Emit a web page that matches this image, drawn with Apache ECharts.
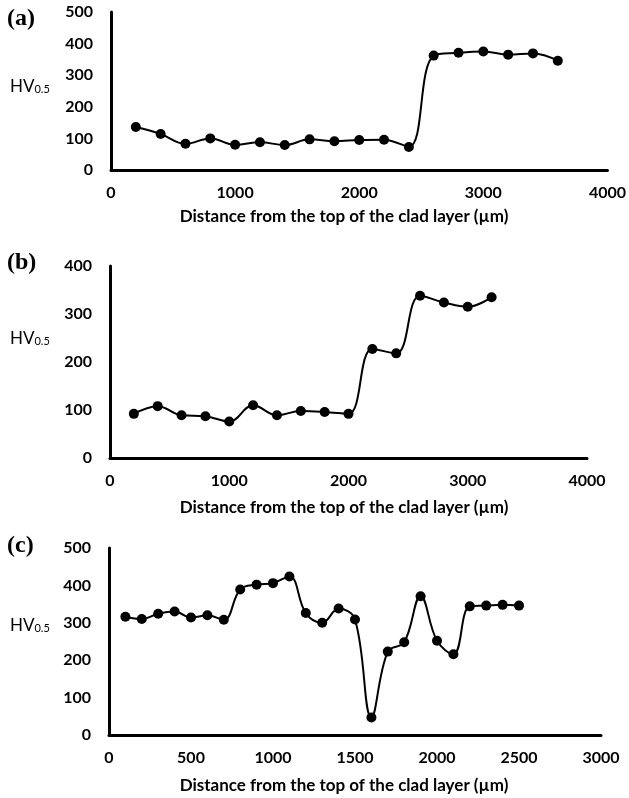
<!DOCTYPE html>
<html>
<head>
<meta charset="utf-8">
<script src="https://cdn.jsdelivr.net/npm/echarts@6/dist/echarts.min.js"></script>
<style>html,body{margin:0;padding:0;background:#fff}#c{width:629px;height:798px}</style>
</head>
<body>
<div id="c"></div>
<script>
// Panel (a)
const distA = [200,400,600,800,1000,1200,1400,1600,1800,2000,2200,2400,2600,2800,3000,3200,3400,3600];
const hvA   = [136,114,83,100,80,88,79,97,91,95,96,73,362,371,375,365,369,346];
// Panel (b)
const distB = [200,400,600,800,1000,1200,1400,1600,1800,2000,2200,2400,2600,2800,3000,3200];
const hvB   = [92,108,89,87,76,110,89,98,96,92,227,218,338,324,315,335];
// Panel (c)
const distC = [100,200,300,400,500,600,700,800,900,1000,1100,1200,1300,1400,1500,1600,1700,1800,1900,2000,2100,2200,2300,2400,2500];
const hvC   = [316,310,324,330,314,320,308,389,402,406,424,326,300,338,309,47,223,248,371,252,216,344,346,348,346];

const panelLabels = ['(a)','(b)','(c)'];
const xTitle = 'Distance from the top of the clad layer (µm)';
const xMaxes = [4000,4000,3000];
const xIntervals = [1000,1000,500];
const yMaxes = [500,400,500];

const grids = [
  {left:111, top:12, width:499, height:158},
  {left:110, top:266, width:477, height:192},
  {left:109, top:548, width:492, height:187}
];
const titleY = [217, 508, 786];
const hvY = [88, 340, 627];
const panelY = [21, 265, 548];

const pair = (xs, ys) => xs.map((x,i)=>[x, ys[i]]);
const seriesData = [pair(distA,hvA), pair(distB,hvB), pair(distC,hvC)];

const FONT = 'Lato';
const chart = echarts.init(document.getElementById('c'), null, {renderer:'canvas'});

const graphics = [];
for (let i=0;i<3;i++){
  graphics.push({type:'text', left:7, top:panelY[i]-14,
    style:{text:panelLabels[i], font:'bold 24px "Liberation Serif"', fill:'#000'}});
  graphics.push({type:'text', left:10, top:hvY[i]-10,
    style:{text:'{a|HV}{b|0.5}', fill:'#000',
      rich:{a:{fontFamily:FONT, fontSize:17, fill:'#000', verticalAlign:'bottom'},
            b:{fontFamily:FONT, fontSize:11, fill:'#000', padding:[7,0,0,0], verticalAlign:'bottom'}}}});
  graphics.push({type:'text', x:344, y:titleY[i],
    style:{text:xTitle, font:'bold 17px '+FONT, fill:'#000', align:'center', verticalAlign:'middle'}});
}

const option = {
  animation:false,
  backgroundColor:'#fff',
  grid: grids,
  xAxis: grids.map((g,i)=>({
    type:'value', gridIndex:i, min:0, max:xMaxes[i], interval:xIntervals[i],
    axisLine:{show:true, onZero:false, lineStyle:{color:'#000', width:3}},
    axisTick:{show:false}, splitLine:{show:false},
    axisLabel:{color:'#000', fontFamily:FONT, fontWeight:'bold', fontSize:16, margin:15,
      formatter:(v)=>String(v)}
  })),
  yAxis: grids.map((g,i)=>({
    type:'value', gridIndex:i, min:0, max:yMaxes[i], interval:100,
    axisLine:{show:true, lineStyle:{color:'#000', width:3}},
    axisTick:{show:false}, splitLine:{show:false},
    axisLabel:{color:'#000', fontFamily:FONT, fontWeight:'bold', fontSize:16, margin:18,
      formatter:(v)=>String(v)}
  })),
  series: seriesData.map((d,i)=>({
    type:'line', xAxisIndex:i, yAxisIndex:i, data:d, smooth:0.4,
    symbol:'circle', symbolSize:10, itemStyle:{color:'#000'},
    lineStyle:{color:'#000', width:2}
  })),
  graphic: graphics
};
chart.setOption(option);
</script>
</body>
</html>
